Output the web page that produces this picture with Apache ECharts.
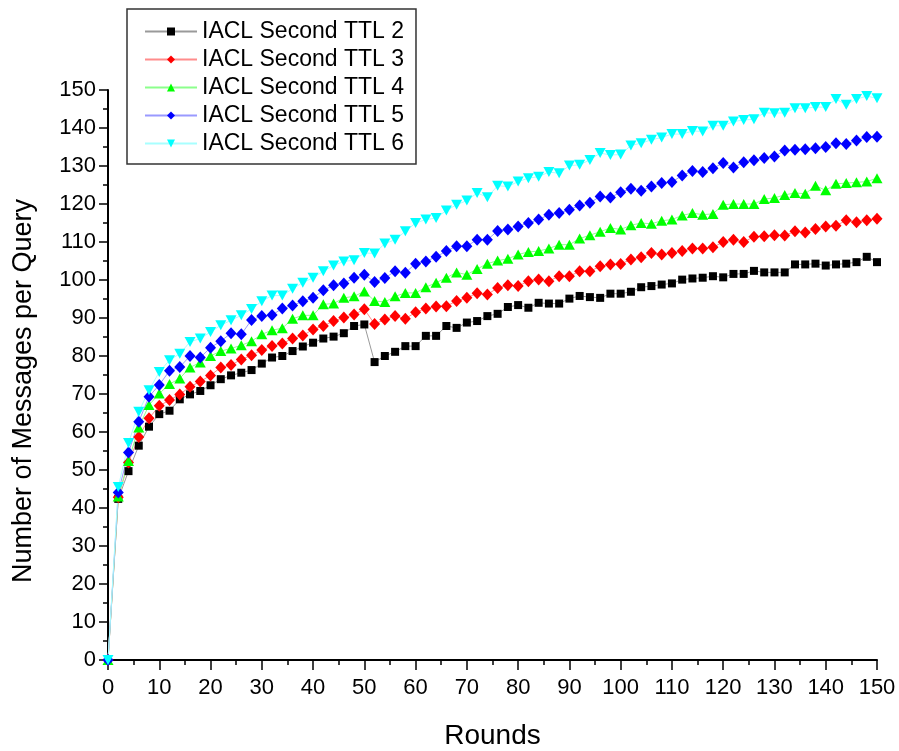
<!DOCTYPE html>
<html>
<head>
<meta charset="utf-8">
<script src="https://cdn.jsdelivr.net/npm/echarts@6/dist/echarts.min.js"></script>
<style>
html,body{margin:0;padding:0;background:#fff;}
#chart{width:899px;height:751px;}
</style>
</head>
<body>
<div id="chart"></div>
<script>
const rounds = [0,2,4,6,8,10,12,14,16,18,20,22,24,26,28,30,32,34,36,38,40,42,44,46,48,50,52,54,56,58,60,62,64,66,68,70,72,74,76,78,80,82,84,86,88,90,92,94,96,98,100,102,104,106,108,110,112,114,116,118,120,122,124,126,128,130,132,134,136,138,140,142,144,146,148,150];

const ttl2 = [0,42.4,49.7,56.4,61.4,64.7,65.6,68.6,69.9,70.8,72.3,73.9,74.9,75.6,76.3,78.0,79.6,80.0,81.3,82.5,83.5,84.6,85.1,86.0,87.9,88.3,78.4,80.0,81.1,82.6,82.6,85.3,85.3,87.9,87.4,88.8,89.2,90.5,91.1,92.9,93.4,92.7,94.0,93.8,93.8,95.1,95.8,95.5,95.3,96.4,96.4,96.9,98.1,98.4,98.8,99.1,100.1,100.4,100.6,101.0,100.7,101.6,101.6,102.4,102.0,102.0,102.0,104.1,104.1,104.3,103.8,104.1,104.3,104.7,106.1,104.7];

const ttl3 = [0,42.8,52.0,58.7,63.6,66.9,68.4,69.9,71.9,73.3,74.9,77.0,77.6,79.1,80.2,81.6,82.6,83.3,84.6,85.4,87.0,87.9,89.2,90.1,90.9,92.3,88.4,89.6,90.5,89.8,91.5,92.5,93.0,93.1,94.5,95.3,96.5,96.2,97.9,98.6,98.4,99.7,100.1,99.7,101.0,101.0,102.3,102.3,103.6,104.1,104.2,105.4,106.0,107.1,106.7,107.1,107.6,108.3,108.3,108.6,110.0,110.6,110.0,111.4,111.5,111.8,111.7,112.8,112.5,113.4,114.1,114.3,115.7,115.2,115.7,116.1];

const ttl4 = [0,43.0,52.4,61.2,67.1,70.1,72.6,74.1,77.0,78.3,80.0,81.3,82.0,82.8,83.9,85.7,86.8,87.3,89.8,90.7,90.7,93.6,93.8,95.3,95.7,97.0,94.5,94.2,95.7,96.6,96.6,98.1,99.3,100.6,102.0,101.4,102.9,104.3,105.1,105.6,106.7,107.4,107.6,108.3,109.3,109.3,110.9,111.8,112.7,113.7,113.3,114.4,115.0,114.8,115.6,115.9,117.0,117.6,117.2,117.4,119.8,120.0,120.0,120.0,121.3,121.6,122.4,122.9,122.7,124.8,123.6,125.3,125.5,125.7,125.9,126.8];

const ttl5 = [0,44.1,54.6,62.7,69.3,72.4,76.1,77.1,80.0,79.6,82.2,83.9,86.0,85.7,89.5,90.5,90.8,92.5,93.3,94.4,95.3,97.3,98.6,99.1,100.6,101.4,99.5,100.5,102.3,101.9,104.3,104.9,106.1,107.6,108.9,108.9,110.6,110.6,112.9,113.3,114.1,115.0,115.9,117.2,117.6,118.5,119.6,120.3,122.0,121.7,123.1,124.0,123.5,124.6,125.5,125.8,127.5,128.7,128.4,129.4,130.8,129.6,131.0,131.5,132.1,132.5,134.1,134.3,134.4,134.7,135.0,136.0,135.8,136.7,137.6,137.7];

const ttl6 = [0,45.5,57.1,65.3,71.0,75.8,78.9,80.6,83.7,84.6,86.3,88.1,89.4,90.7,92.4,94.4,95.9,95.9,97.7,99.3,100.6,102.3,103.8,104.9,105.2,107.1,107.0,109.6,110.6,112.8,115.0,115.9,116.3,118.3,119.8,120.9,122.9,121.8,124.8,124.6,125.9,126.8,127.2,128.4,128.1,130.1,130.3,131.6,133.4,132.9,133.0,135.4,136.0,136.9,137.5,138.4,138.4,139.2,139.1,140.6,140.6,141.7,142.1,142.3,144.0,143.9,144.0,145.2,145.2,145.5,145.5,147.6,146.1,147.6,148.4,147.8];

const seriesNames = ['IACL Second TTL 2','IACL Second TTL 3','IACL Second TTL 4','IACL Second TTL 5','IACL Second TTL 6'];
const seriesValues = [ttl2, ttl3, ttl4, ttl5, ttl6];
const markerColors = ['#000000','#ff0000','#00ff00','#0000ff','#00ffff'];
const lineColors = ['#9a9a9a','#ff8c8c','#8cff8c','#9a9aff','#a8ffff'];
const symbols = ['rect','diamond','triangle','diamond','triangle'];
const symbolSizes = [[8,8],[11,12],[11,10],[11,12],[11,10]];
const symbolRotates = [0,0,0,0,180];

const FONT = '"Liberation Sans", Arial, sans-serif';

const chart = echarts.init(document.getElementById('chart'), null, {renderer:'canvas'});

const series = seriesNames.map((name, i) => ({
  name: name,
  type: 'line',
  data: rounds.map((r, k) => [r, seriesValues[i][k]]),
  symbol: symbols[i],
  symbolSize: symbolSizes[i],
  symbolRotate: symbolRotates[i],
  showAllSymbol: true,
  animation: false,
  itemStyle: { color: markerColors[i], borderWidth: 0 },
  lineStyle: { color: lineColors[i], width: 1 },
  emphasis: { disabled: true }
}));

chart.setOption({
  backgroundColor: '#ffffff',
  animation: false,
  textStyle: { fontFamily: FONT },
  grid: { left: 108, right: 22, top: 90, bottom: 91, containLabel: false, outerBoundsMode: 'none' },
  legend: {
    show: true,
    orient: 'vertical',
    left: 127,
    top: 9,
    data: seriesNames,
    itemWidth: 52,
    itemHeight: 10,
    itemGap: 5,
    padding: [11, 12, 9, 17],
    borderColor: '#333',
    borderWidth: 1.5,
    backgroundColor: '#fff',
    textStyle: { fontFamily: FONT, fontSize: 23, color: '#000', lineHeight: 23 },
    selectedMode: false
  },
  xAxis: {
    type: 'value',
    min: 0, max: 150, interval: 10,
    name: 'Rounds',
    nameLocation: 'middle',
    nameGap: 62,
    nameTextStyle: { fontFamily: FONT, fontSize: 28, color: '#000' },
    axisLine: { show: true, onZero: false, lineStyle: { color: '#000', width: 2 } },
    axisTick: { show: true, inside: false, length: 10, lineStyle: { color: '#000', width: 1.5 } },
    minorTick: { show: true, splitNumber: 2, length: 5, lineStyle: { color: '#000', width: 1.5 } },
    splitLine: { show: false },
    axisLabel: { fontFamily: FONT, fontSize: 22, color: '#000', margin: 17 }
  },
  yAxis: {
    type: 'value',
    min: 0, max: 150, interval: 10,
    name: 'Number of Messages per Query',
    nameLocation: 'middle',
    nameGap: 71,
    nameTextStyle: { fontFamily: FONT, fontSize: 27, color: '#000', padding: [0, 32, 0, 0] },
    axisLine: { show: true, onZero: false, lineStyle: { color: '#000', width: 2 } },
    axisTick: { show: true, inside: false, length: 9, lineStyle: { color: '#000', width: 1.5 } },
    minorTick: { show: true, splitNumber: 2, length: 5, lineStyle: { color: '#000', width: 1.5 } },
    splitLine: { show: false },
    axisLabel: { fontFamily: FONT, fontSize: 22, color: '#000', margin: 12 }
  },
  series: series
});
</script>
</body>
</html>
